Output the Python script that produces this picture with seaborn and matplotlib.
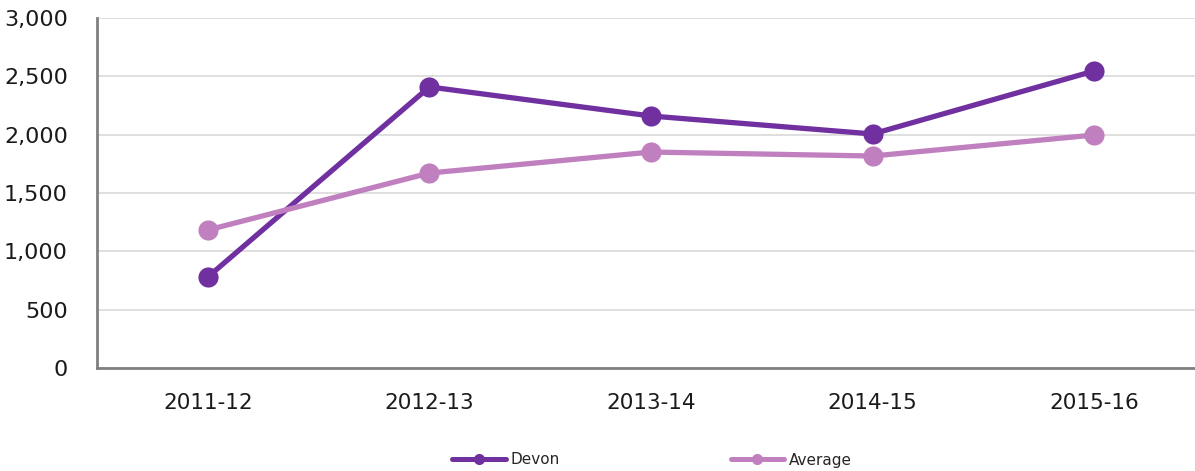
import pandas as pd
import matplotlib.pyplot as plt
import seaborn as sns

# Data
years = ['2011-12', '2012-13', '2013-14', '2014-15', '2015-16']
devon = [780, 2409, 2160, 2006, 2546]
average = [1183, 1671, 1851, 1817, 1997]

df = pd.DataFrame({
    'year': years * 2,
    'value': devon + average,
    'series': ['Devon'] * len(years) + ['Average'] * len(years),
})
df['x'] = list(range(len(years))) * 2

sns.set_theme(style="white")
plt.rcParams['font.family'] = ['DejaVu Sans']

fig = plt.figure(figsize=(11.95, 4.71), dpi=100)
ax = fig.add_axes([97 / 1195, 103 / 471, 1 - 97 / 1195, 350 / 471])

palette = {'Devon': '#7030A0', 'Average': '#C080C0'}
sns.lineplot(data=df, x='x', y='value', hue='series', palette=palette,
             marker='o', markersize=14.5, linewidth=3.8, markeredgewidth=0,
             ax=ax, legend=False, zorder=3)

ax.set_xlim(-0.5, 4.455)
ax.set_ylim(0, 3000)
ax.set_yticks(range(0, 3001, 500))
ax.set_yticklabels([f"{v:,}" for v in range(0, 3001, 500)], fontsize=16, color='#1a1a1a')
ax.set_xticks(range(len(years)))
ax.set_xticklabels(years, fontsize=15.5, color='#1a1a1a')
ax.tick_params(axis='both', length=0)
ax.tick_params(axis='x', pad=18)
ax.tick_params(axis='y', pad=21)
ax.set_xlabel('')
ax.set_ylabel('')

ax.yaxis.grid(True, color='#D9D9D9', linewidth=1.2)
ax.set_axisbelow(True)
for s in ['top', 'right']:
    ax.spines[s].set_visible(False)
for s in ['left', 'bottom']:
    ax.spines[s].set_color('#808080')
    ax.spines[s].set_linewidth(2)

handles = [plt.Line2D([], [], color=palette[k], linewidth=3.6, marker='o',
                      markersize=8, markeredgewidth=0) for k in ['Devon', 'Average']]
fig.legend(handles, ['Devon', 'Average'], loc='center', ncol=2,
           bbox_to_anchor=(652 / 1195, 1 - 460 / 471), frameon=False,
           fontsize=11, handlelength=3.5, handletextpad=0.3, columnspacing=11.2)

fig.savefig('out.png', dpi=100)
